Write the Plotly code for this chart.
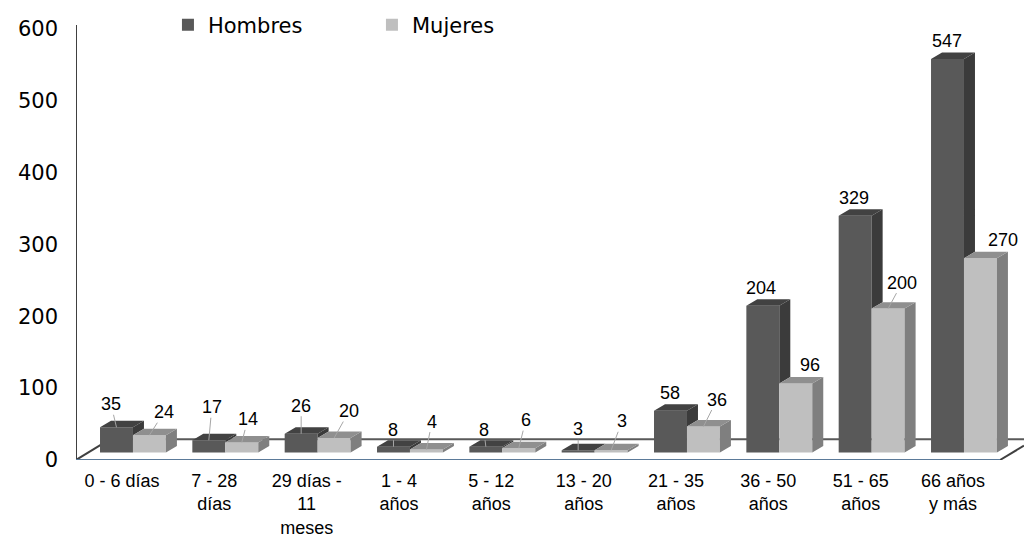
import plotly.graph_objects as go

categories = ["0 - 6 días", "7 - 28<br>días", "29 días -<br>11<br>meses", "1 - 4<br>años", "5 - 12<br>años",
              "13 - 20<br>años", "21 - 35<br>años", "36 - 50<br>años", "51 - 65<br>años", "66 años<br>y más"]
hombres = [35, 17, 26, 8, 8, 3, 58, 204, 329, 547]
mujeres = [24, 14, 20, 4, 6, 3, 36, 96, 200, 270]
y_ticks = [0, 100, 200, 300, 400, 500, 600]

# style / layout constants
W, H = 1024, 537
BASE = 10.5       # bars stand on the floor, a little behind the front edge
BAR_W = 0.357
DX, DY = 0.119, 9.0
X_MIN, X_MAX = -0.617, 9.65
Y_MAX = 639.6
AXIS_TOP = 604.9
DARK, DARK_TOP, DARK_SIDE = "#595959", "#424242", "#3b3b3b"
LIGHT, LIGHT_TOP, LIGHT_SIDE = "#bfbfbf", "#8f8f8f", "#7f7f7f"
FONT = "Liberation Sans"
WIDE = "DejaVu Sans"

# pixel offsets of value labels from the bar top, and whether a leader line shows
h_off = [(-5.5, -23), (3, -33), (0, -28), (0, -17), (-2, -17), (0, -21), (-1, -18), (-2, -18), (-1, -18), (-1, -18)]
m_off = [(14.5, -23), (6, -23), (15, -27), (5.5, -28), (7, -28), (11, -29), (13.5, -27), (14, -18), (14, -26), (22.5, -18)]
h_lead = [1, 1, 1, 1, 1, 1, 0, 0, 0, 0]
m_lead = [1, 1, 1, 1, 1, 1, 1, 0, 1, 0]


def faces(kind, left_edge, vals, lower=None):
    xs, ys = [], []
    for i, v in enumerate(vals):
        L = i + left_edge
        R = L + BAR_W
        top = v + BASE
        if kind == "top":
            xs += [L, L + DX, R + DX, R, L, None]
            ys += [top, top + DY, top + DY, top, top, None]
        else:
            low = (lower[i] if lower else 0) + BASE
            xs += [R, R + DX, R + DX, R, R, None]
            ys += [top, top + DY, low + DY, low, top, None]
    return xs, ys


x_pos = list(range(len(categories)))
fig = go.Figure()
fig.add_bar(x=x_pos, y=hombres, base=BASE, width=BAR_W, offset=-BAR_W, name="Hombres",
            marker=dict(color=DARK, line_width=0))
fig.add_bar(x=x_pos, y=mujeres, base=BASE, width=BAR_W, offset=0, name="Mujeres",
            marker=dict(color=LIGHT, line_width=0))

for (kind, edge, vals, lower, col) in [
    ("side", -BAR_W, hombres, mujeres, DARK_SIDE),
    ("top", -BAR_W, hombres, None, DARK_TOP),
    ("side", 0, mujeres, None, LIGHT_SIDE),
    ("top", 0, mujeres, None, LIGHT_TOP),
]:
    xs, ys = faces(kind, edge, vals, lower)
    fig.add_scatter(x=xs, y=ys, mode="lines", fill="toself", fillcolor=col, line=dict(width=0),
                    showlegend=False, hoverinfo="skip")

annotations = []
for vals, offs, leads, shift in [(hombres, h_off, h_lead, -BAR_W / 2), (mujeres, m_off, m_lead, BAR_W / 2)]:
    for i, v in enumerate(vals):
        annotations.append(dict(
            x=i + shift, y=v + BASE, text=str(v), showarrow=True, arrowhead=0, arrowwidth=1,
            arrowcolor="#a6a6a6" if leads[i] else "rgba(0,0,0,0)", standoff=0,
            ax=offs[i][0], ay=offs[i][1], axref="pixel", ayref="pixel", borderpad=0,
            font=dict(family=FONT, size=18, color="#000000")))

floor_back = 29.0
slope_dx = 24 / 92.33
shapes = [
    dict(type="line", layer="below", xref="x", yref="y", x0=X_MIN, y0=0, x1=X_MIN, y1=AXIS_TOP,
         line=dict(color="#404040", width=2)),
    dict(type="line", layer="below", xref="x", yref="y", x0=X_MIN, y0=0, x1=X_MIN + 0.37, y1=floor_back,
         line=dict(color="#404040", width=2)),
    dict(type="line", layer="below", xref="x", yref="y", x0=X_MIN + 0.37, y0=floor_back, x1=X_MAX, y1=floor_back,
         line=dict(color="#595959", width=2)),
    dict(type="line", layer="below", xref="x", yref="y", x0=X_MAX - slope_dx, y0=0, x1=X_MAX, y1=20,
         line=dict(color="#404040", width=2)),
    dict(type="line", layer="below", xref="x", yref="y", x0=X_MIN, y0=0, x1=X_MAX - slope_dx, y1=0,
         line=dict(color="#5b7a99", width=2)),
]

fig.update_layout(
    width=W, height=H, autosize=False,
    margin=dict(l=76, r=0, t=0, b=76.5, pad=0, autoexpand=False),
    paper_bgcolor="white", plot_bgcolor="white",
    barmode="overlay", shapes=shapes, annotations=annotations,
    font=dict(family=FONT, color="#000000"),
    showlegend=True,
    legend=dict(orientation="h", x=0.097, xanchor="left", y=0.99, yanchor="top",
                entrywidth=159, entrywidthmode="pixels", itemwidth=30,
                font=dict(family=WIDE, size=21), bgcolor="rgba(0,0,0,0)", traceorder="normal"),
    xaxis=dict(range=[X_MIN, X_MAX], tickmode="array", tickvals=[i - DX for i in x_pos], ticktext=categories,
               showgrid=False, zeroline=False, showline=False, ticks="", tickangle=0, ticklabelstandoff=8,
               automargin=False, tickfont=dict(family=FONT, size=18)),
    yaxis=dict(range=[0, Y_MAX], tickmode="array", tickvals=y_ticks, showgrid=False, zeroline=False,
               showline=False, ticks="", ticklabelstandoff=17, automargin=False,
               tickfont=dict(family=WIDE, size=21)),
)
fig.write_html("out.html", config=dict(displayModeBar=False),
               post_script="document.body.style.margin='0';")
